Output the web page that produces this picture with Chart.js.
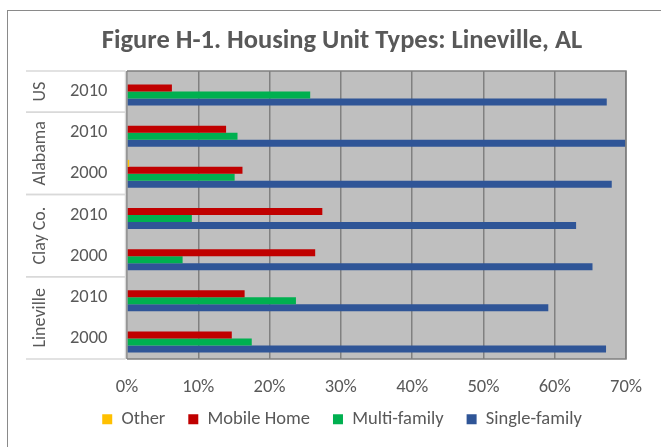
<!DOCTYPE html>
<html>
<head>
<meta charset="utf-8">
<script src="https://cdn.jsdelivr.net/npm/chart.js@4/dist/chart.umd.min.js"></script>
<style>
  html, body { margin: 0; padding: 0; background: #fff; overflow: hidden; }
  #frame { position: absolute; left: 7px; top: 10px; width: 668px; height: 450px; border: 1px solid #8a8a8a; }
  #frame canvas { display: block; }
</style>
</head>
<body>
<div id="frame"><canvas id="housingChart" width="668" height="450"></canvas></div>
<script>
'use strict';

// categories, bottom-level (year) and top-level (place)
const years = ['2010', '2010', '2000', '2010', '2000', '2010', '2000'];
const places = ['US', 'Alabama', 'Alabama', 'Clay Co.', 'Clay Co.', 'Lineville', 'Lineville'];

// percent of housing units by type
const otherData = [0, 0, 0.3, 0, 0, 0, 0];
const mobileData = [6.3, 13.9, 16.2, 27.4, 26.4, 16.5, 14.7];
const multiData = [25.7, 15.5, 15.1, 9.1, 7.8, 23.7, 17.5];
const singleData = [67.3, 69.9, 68.0, 63.0, 65.3, 59.1, 67.2];

const seriesNames = ['Other', 'Mobile Home', 'Multi-family', 'Single-family'];
const xTicks = [0, 10, 20, 30, 40, 50, 60, 70];

const FONT = 'Carlito, Lato, sans-serif';
const TEXT = '#595959';

let plotPlugin = {
  id: 'plotDecor',
  afterLayout(chart) {
    // pull the legend up closer to the tick labels
    if (chart.legend) {
      chart.legend.top -= 12;
      chart.legend.bottom -= 12;
    }
  },
  beforeDraw(chart) {
    let {ctx, chartArea: a} = chart;
    ctx.save();
    ctx.fillStyle = '#bfbfbf';
    ctx.fillRect(a.left, a.top, a.right - a.left, a.bottom - a.top);
    ctx.restore();
  },
  afterDraw(chart) {
    let {ctx, chartArea: a} = chart;
    let yScale = chart.scales.y;
    ctx.save();
    // plot border (top, right, bottom)
    ctx.strokeStyle = '#808080';
    ctx.lineWidth = 1.5;
    ctx.beginPath();
    ctx.moveTo(a.left, a.top);
    ctx.lineTo(a.right, a.top);
    ctx.lineTo(a.right, a.bottom);
    ctx.lineTo(a.left, a.bottom);
    ctx.stroke();

    // category axis line and group dividers
    ctx.strokeStyle = '#d9d9d9';
    ctx.beginPath();
    ctx.moveTo(a.left - 1.5, a.top);
    ctx.lineTo(a.left - 1.5, a.bottom);
    ctx.stroke();

    let band = (a.bottom - a.top) / years.length;
    let start = 0;
    for (let i = 1; i <= places.length; i++) {
      if (i === places.length || places[i] !== places[start]) {
        let y0 = yScale.getPixelForValue(start) - band / 2;
        let y1 = yScale.getPixelForValue(i - 1) + band / 2;
        ctx.beginPath();
        ctx.moveTo(18, y0);
        ctx.lineTo(a.left - 1.5, y0);
        ctx.moveTo(18, y1);
        ctx.lineTo(a.left - 1.5, y1);
        ctx.stroke();

        ctx.save();
        ctx.translate(32, (y0 + y1) / 2);
        ctx.rotate(-Math.PI / 2);
        ctx.fillStyle = TEXT;
        ctx.font = '18px ' + FONT;
        ctx.textAlign = 'center';
        ctx.textBaseline = 'middle';
        ctx.fillText(places[start], 0, 0);
        ctx.restore();
        start = i;
      }
    }
    ctx.restore();
  }
};

let ctx = document.getElementById('housingChart');
let chartOptions = {
  type: 'bar',
  data: {
    labels: years,
    datasets: [
      { label: seriesNames[0], data: otherData, backgroundColor: '#ffc000' },
      { label: seriesNames[1], data: mobileData, backgroundColor: '#c00000' },
      { label: seriesNames[2], data: multiData, backgroundColor: '#00b050' },
      { label: seriesNames[3], data: singleData, backgroundColor: '#2f5597' },
    ],
  },
  options: {
    indexAxis: 'y',
    responsive: false,
    animation: false,
    categoryPercentage: 0.68,
    barPercentage: 1,
    layout: { padding: { top: 0, left: 0, right: 0, bottom: 10.5 } },
    plugins: {
      title: {
        display: true,
        text: 'Figure H-1. Housing Unit Types: Lineville, AL',
        color: TEXT,
        font: { family: FONT, size: 26.5, weight: 'bold' },
        padding: { top: 14.8, bottom: 13.4 },
      },
      legend: {
        position: 'bottom',
        labels: {
          color: TEXT,
          font: { family: FONT, size: 18.5 },
          boxWidth: 10,
          boxHeight: 10,
          padding: 23,
        },
      },
      tooltip: { enabled: false },
    },
    scales: {
      x: {
        min: 0,
        max: 70,
        afterBuildTicks: (s) => { s.ticks = xTicks.map(v => ({ value: v })); },
        afterFit: (s) => { s.height = 40; },
        grid: { color: '#808080', lineWidth: 1.5, drawTicks: false },
        border: { display: false },
        ticks: {
          color: TEXT,
          font: { family: FONT, size: 18.5 },
          padding: 17.5,
          callback: (v) => v + '%',
        },
      },
      y: {
        afterFit: (s) => { s.width = 119; },
        grid: { display: false, drawTicks: false },
        border: { display: false },
        ticks: {
          color: TEXT,
          font: { family: FONT, size: 18.5 },
          padding: 19.5,
        },
      },
      // empty right-hand spacer so the plot stops short of the frame edge
      spacer: {
        type: 'linear',
        position: 'right',
        display: true,
        afterFit: (s) => { s.width = 50; },
        grid: { display: false, drawTicks: false },
        border: { display: false },
        ticks: { display: false },
      },
    },
  },
  plugins: [plotPlugin],
};
let myChart = new Chart(ctx, chartOptions);
</script>
</body>
</html>
